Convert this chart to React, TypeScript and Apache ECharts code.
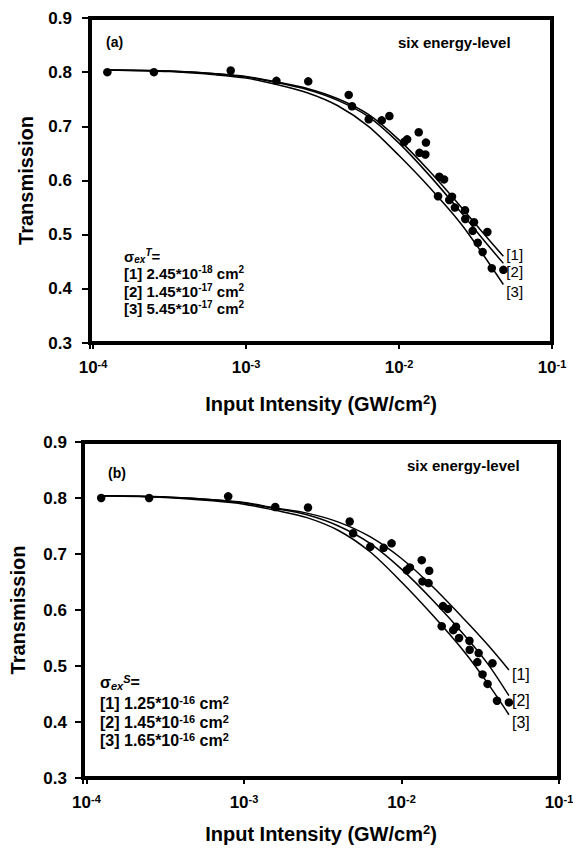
import React, { useEffect, useRef } from "react";
import * as echarts from "echarts";

// Measured data (same experiment shown in both panels)
const intensity = [
  1.24e-4, 2.5e-4, 7.94e-4, 1.58e-3, 2.55e-3, 4.69e-3, 4.93e-3, 6.34e-3, 7.71e-3, 8.65e-3,
  0.0108, 0.0113, 0.01345, 0.0136, 0.015, 0.01486, 0.01834, 0.0197, 0.018, 0.0213,
  0.0222, 0.0232, 0.027, 0.0271, 0.0303, 0.0309, 0.0327, 0.0352, 0.0378, 0.0404, 0.0481,
];
const transmission = [
  0.8, 0.8, 0.803, 0.784, 0.783, 0.758, 0.737, 0.713, 0.711, 0.719,
  0.671, 0.676, 0.689, 0.651, 0.67, 0.648, 0.607, 0.602, 0.571, 0.564,
  0.57, 0.55, 0.545, 0.529, 0.507, 0.523, 0.485, 0.468, 0.505, 0.438, 0.435,
];

// Fit curves
const fitIntensity = [1.24e-4, 3.16e-4, 6.31e-4, 1.0e-3, 1.585e-3, 2.51e-3, 3.98e-3, 6.31e-3, 0.01, 0.01585, 0.0251, 0.0355, 0.0481];
const fitA1 = [0.804, 0.802, 0.797, 0.792, 0.782, 0.77, 0.751, 0.722, 0.675, 0.617, 0.553, 0.503, 0.46];
const fitA2 = [0.804, 0.802, 0.797, 0.791, 0.781, 0.768, 0.748, 0.718, 0.669, 0.609, 0.543, 0.491, 0.447];
const fitA3 = [0.804, 0.801, 0.795, 0.789, 0.777, 0.762, 0.738, 0.7, 0.646, 0.587, 0.522, 0.463, 0.408];
const fitB1 = [0.804, 0.802, 0.797, 0.792, 0.782, 0.773, 0.757, 0.731, 0.692, 0.641, 0.583, 0.537, 0.493];
const fitB2 = [0.804, 0.802, 0.797, 0.791, 0.781, 0.77, 0.75, 0.719, 0.673, 0.617, 0.555, 0.503, 0.447];
const fitB3 = [0.804, 0.801, 0.795, 0.789, 0.778, 0.765, 0.742, 0.704, 0.65, 0.59, 0.525, 0.468, 0.413];

const curveLabels = ["[1]", "[2]", "[3]"];
const yTicks = [0.3, 0.4, 0.5, 0.6, 0.7, 0.8, 0.9];
const panelTags = ["(a)", "(b)"];
const modelText = "six energy-level";
const legendA = ["2.45*10|-18", "1.45*10|-17", "5.45*10|-17"];
const legendB = ["1.25*10|-16", "1.45*10|-16", "1.65*10|-16"];
const legendSymbols = ["T", "S"];

const FONT = "'Liberation Sans', Arial, Helvetica, sans-serif";

function buildOption() {
  const panels = [
    {
      grid: { left: 90, top: 18, width: 462, height: 325 },
      xmin: Math.pow(10, -4.02),
      xNameGap: 50,
      yNameGap: 54,
      yLabelMargin: 18,
      fits: [fitA1, fitA2, fitA3],
      endOffsets: [[0, -2], [0, 8], [0, 7]],
      labelSize: 15,
      tag: { x: 106, y: 42 },
      model: { x: 398, y: 42, size: 15 },
      legend: { x: 124, y: [256, 273, 291, 308], size: 15, rows: legendA, sym: legendSymbols[0] },
    },
    {
      grid: { left: 83, top: 442, width: 476, height: 336 },
      xmin: Math.pow(10, -4.022),
      xNameGap: 45,
      yNameGap: 55,
      yLabelMargin: 16,
      fits: [fitB1, fitB2, fitB3],
      endOffsets: [[0, 5], [0, 5], [0, 8]],
      labelSize: 16,
      tag: { x: 108, y: 473 },
      model: { x: 407, y: 465, size: 15 },
      legend: { x: 100, y: [682, 703, 722, 740], size: 16, rows: legendB, sym: legendSymbols[1] },
    },
  ];

  const grids: any[] = [];
  const xAxes: any[] = [];
  const yAxes: any[] = [];
  const series: any[] = [];
  const graphics: any[] = [];

  panels.forEach((p, i) => {
    grids.push({
      ...p.grid,
      show: true,
      borderColor: "#000",
      borderWidth: 4,
      backgroundColor: "transparent",
      containLabel: false,
      outerBoundsMode: "none",
    });
    xAxes.push({
      type: "log",
      logBase: 10,
      gridIndex: i,
      min: p.xmin,
      max: 0.1,
      axisLine: { show: false },
      axisTick: { show: true, inside: false, length: 6, lineStyle: { color: "#000", width: 2 } },
      splitLine: { show: false },
      minorTick: { show: false },
      axisLabel: {
        margin: 15,
        formatter: (v: number) => {
          const e = Math.log10(v);
          if (Math.abs(e - Math.round(e)) > 0.005) return "";
          return `{b|10}{s|${Math.round(e)}}`;
        },
        rich: {
          b: { fontSize: 17, fontWeight: "bold", fontFamily: FONT, color: "#000", lineHeight: 18 },
          s: { fontSize: 11, fontWeight: "bold", fontFamily: FONT, color: "#000", verticalAlign: "top", lineHeight: 9 },
        },
      },
      name: "{t|Input Intensity (GW/cm}{s|2}{t|)}",
      nameLocation: "middle",
      nameGap: p.xNameGap,
      nameTextStyle: {
        rich: {
          t: { fontSize: 20, fontWeight: "bold", fontFamily: FONT, color: "#000", lineHeight: 22 },
          s: { fontSize: 13, fontWeight: "bold", fontFamily: FONT, color: "#000", verticalAlign: "top", lineHeight: 11 },
        },
      },
    });
    yAxes.push({
      type: "value",
      gridIndex: i,
      min: yTicks[0],
      max: yTicks[yTicks.length - 1],
      interval: 0.1,
      axisLine: { show: false },
      axisTick: { show: true, inside: false, length: 8, lineStyle: { color: "#000", width: 2 } },
      splitLine: { show: false },
      axisLabel: {
        margin: p.yLabelMargin,
        formatter: (v: number) => v.toFixed(1),
        fontSize: 17,
        fontWeight: "bold",
        fontFamily: FONT,
        color: "#000",
      },
      name: "Transmission",
      nameLocation: "middle",
      nameRotate: 90,
      nameGap: p.yNameGap,
      nameTextStyle: { fontSize: 20, fontWeight: "bold", fontFamily: FONT, color: "#000" },
    });

    p.fits.forEach((fit, k) => {
      series.push({
        type: "line",
        xAxisIndex: i,
        yAxisIndex: i,
        data: fitIntensity.map((x, j) => [x, fit[j]]),
        showSymbol: false,
        symbol: "none",
        smooth: 0.3,
        lineStyle: { color: "#000", width: 1.5 },
        z: 2,
        silent: true,
        endLabel: {
          show: true,
          formatter: curveLabels[k],
          distance: 3,
          offset: p.endOffsets[k],
          fontSize: p.labelSize,
          fontFamily: FONT,
          color: "#000",
        },
      });
    });
    series.push({
      type: "scatter",
      xAxisIndex: i,
      yAxisIndex: i,
      data: intensity.map((x, j) => [x, transmission[j]]),
      symbol: "circle",
      symbolSize: 8.5,
      itemStyle: { color: "#000", opacity: 1 },
      z: 3,
      silent: true,
    });

    graphics.push({
      type: "text",
      x: p.tag.x,
      y: p.tag.y,
      style: { text: panelTags[i], fontSize: 14, fontWeight: "bold", fontFamily: FONT, fill: "#000", align: "left", verticalAlign: "middle" },
    });
    graphics.push({
      type: "text",
      x: p.model.x,
      y: p.model.y,
      style: { text: modelText, fontSize: p.model.size, fontWeight: "bold", fontFamily: FONT, fill: "#000", align: "left", verticalAlign: "middle" },
    });

    const L = p.legend;
    const big = { fontSize: L.size, fontWeight: "bold", fontFamily: FONT, fill: "#000", lineHeight: L.size + 2 };
    const sup = { fontSize: Math.round(L.size * 0.68), fontWeight: "bold", fontFamily: FONT, fill: "#000", verticalAlign: "top", lineHeight: Math.round(L.size * 0.6) };
    const supI = { ...sup, fontStyle: "italic" };
    const subI = { fontSize: Math.round(L.size * 0.68), fontWeight: "bold", fontStyle: "italic", fontFamily: FONT, fill: "#000", verticalAlign: "bottom", lineHeight: Math.round(L.size * 0.6) };
    const rich = { m: big, sup, supI, subI };
    graphics.push({
      type: "text",
      x: L.x,
      y: L.y[0],
      style: { text: `{m|σ}{subI|ex}{supI|${L.sym}}{m|=}`, rich, align: "left", verticalAlign: "middle" },
    });
    L.rows.forEach((r, k) => {
      const [mant, exp] = r.split("|");
      graphics.push({
        type: "text",
        x: L.x,
        y: L.y[k + 1],
        style: { text: `{m|${curveLabels[k]} ${mant}}{sup|${exp}}{m| cm}{sup|2}`, rich, align: "left", verticalAlign: "middle" },
      });
    });
  });

  return {
    animation: false,
    backgroundColor: "#fff",
    grid: grids,
    xAxis: xAxes,
    yAxis: yAxes,
    series,
    graphic: graphics,
  };
}

export default function App() {
  const ref = useRef<HTMLDivElement>(null);
  useEffect(() => {
    if (!ref.current) return;
    const chart = echarts.init(ref.current, null, { renderer: "svg" });
    chart.setOption(buildOption() as any);
    return () => chart.dispose();
  }, []);
  return (
    <div
      ref={ref}
      style={{ position: "fixed", left: 0, top: 0, width: 573, height: 852, background: "#fff" }}
    />
  );
}
